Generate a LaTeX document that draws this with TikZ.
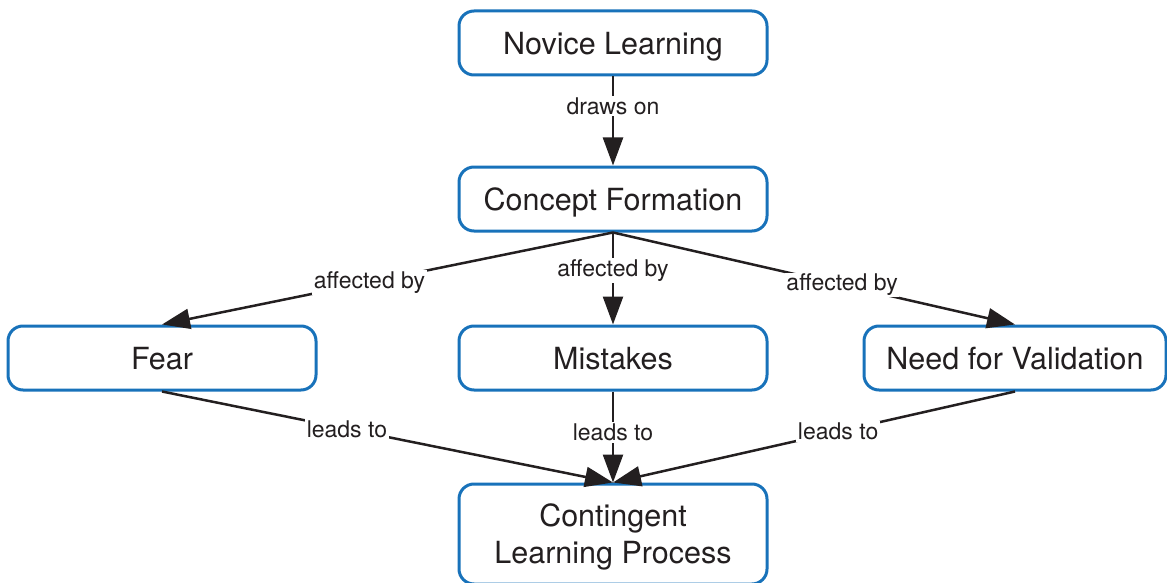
\documentclass[tikz,border=0pt]{standalone}
\usepackage{fontspec}
\setmainfont{TeX Gyre Heros}
\usetikzlibrary{arrows.meta}
\definecolor{boxblue}{RGB}{24,114,186}
\definecolor{ink}{RGB}{35,31,32}
\tikzset{
  concept/.style={draw=boxblue, line width=3pt, rounded corners=15pt, fill=white,
    minimum width=308pt, minimum height=64pt, inner sep=0pt, align=center,
    text depth=0pt, text=ink, font=\fontsize{30.5}{37}\selectfont},
  link/.style={draw=ink, line width=2.5pt, -{Triangle[length=28pt,width=20pt]}},
  lbl/.style={fill=white, inner sep=1.5pt, text=ink, font=\fontsize{23}{27}\selectfont}
}
\begin{document}
\begin{tikzpicture}[x=1pt,y=-1pt]
\useasboundingbox (0,0) rectangle (1167,583);
\node[concept] (nl) at (613,43) {Novice Learning};
\node[concept] (cf) at (613,199) {Concept Formation};
\node[concept] (fear) at (162,358) {Fear};
\node[concept] (mis) at (613,358) {Mistakes};
\node[concept, minimum width=302pt] (nv) at (1015,358) {Need for Validation};
\node[concept, minimum height=100pt] (clp) at (613,534) {Contingent\\Learning Process};
\draw[link] (nl.south) -- node[lbl, pos=0.33] {draws on} (cf.north);
\draw[link] (cf.south) -- node[lbl, pos=0.54] {affected by} (fear.north);
\draw[link] (cf.south) -- node[lbl, pos=0.41] {affected by} (mis.north);
\draw[link] (cf.south) -- node[lbl, pos=0.57] {affected by} (nv.north);
\draw[link] (fear.south) -- node[lbl, pos=0.41] {leads to} (clp.north);
\draw[link] (mis.south) -- node[lbl, pos=0.45] {leads to} (clp.north);
\draw[link] (nv.south) -- node[lbl, pos=0.44] {leads to} (clp.north);
\end{tikzpicture}
\end{document}
